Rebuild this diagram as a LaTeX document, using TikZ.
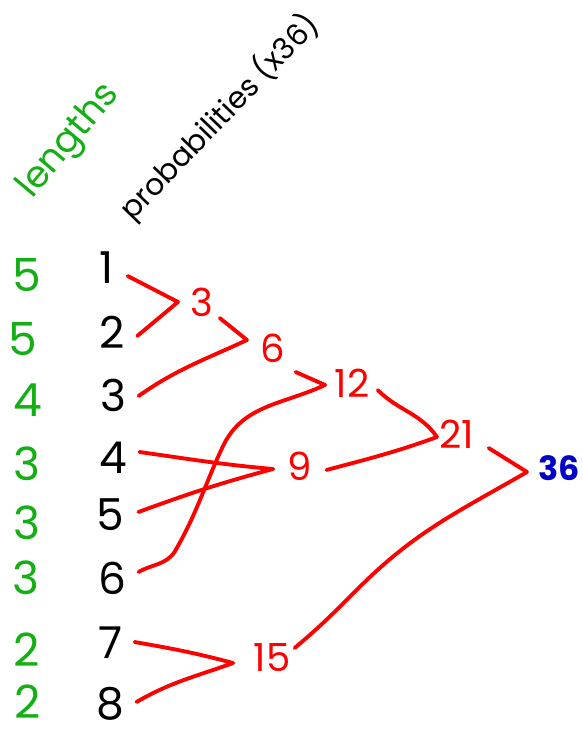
\documentclass[tikz,border=0pt]{standalone}
\usepackage{fontspec}
\setmainfont{Poppins}
\usepackage{xcolor}
\definecolor{hfGreen}{RGB}{20, 175, 20}
\definecolor{hfRed}{RGB}{255, 0, 0}
\definecolor{hfBlue}{RGB}{0, 0, 200}
\usepackage{tikz}
\usetikzlibrary{
    positioning,
    calc
}

\begin{document}
\begin{tikzpicture}[
    x=0.02cm, y=0.02cm,
    lengthNode/.style={
        text=hfGreen, font=\fontsize{26}{26}\selectfont, inner sep=0pt
    },
    probNode/.style={
        text=black, font=\fontsize{25}{25}\selectfont, inner sep=3pt
    },
    sumNode/.style={
        text=hfRed, font=\fontsize{22}{22}\selectfont, inner sep=0pt
    },
    rootNode/.style={
        text=hfBlue, font=\fontsize{19}{19}\selectfont\bfseries, inner sep=0pt
    },
    headLabel/.style={
        anchor=base west, inner sep=0pt
    },
    mergeLine/.style={
        draw=hfRed, line width=2.2pt, line cap=round, line join=round
    }
]

    \useasboundingbox (0,0) rectangle (582,-736);

    % Headings
    \node[headLabel, rotate=50, text=hfGreen, font=\fontsize{21}{21}\selectfont] (lenHead) at (32,-200) {lengths};
    \node[headLabel, rotate=46, font=\fontsize{17}{17}\selectfont] (probHead) at (132,-222) {probabilities~(x36)};

    % Code lengths
    \node[lengthNode] (l1) at (27,-275) {5};
    \node[lengthNode] (l2) at (23,-339) {5};
    \node[lengthNode] (l3) at (28,-400) {4};
    \node[lengthNode] (l4) at (27,-464) {3};
    \node[lengthNode] (l5) at (27,-523) {3};
    \node[lengthNode] (l6) at (26,-578) {3};
    \node[lengthNode] (l7) at (27,-650) {2};
    \node[lengthNode] (l8) at (28,-702) {2};

    % Probabilities
    \node[probNode] (p1) at (107,-268) {1};
    \node[probNode] (p2) at (112,-332) {2};
    \node[probNode] (p3) at (113,-395) {3};
    \node[probNode] (p4) at (113,-458) {4};
    \node[probNode] (p5) at (110,-515) {5};
    \node[probNode] (p6) at (112,-578) {6};
    \node[probNode] (p7) at (110,-643) {7};
    \node[probNode] (p8) at (110,-704) {8};

    % Merged sums
    \node[sumNode] (s3) at (202,-302) {3};
    \node[sumNode] (s6) at (273,-348) {6};
    \node[sumNode] (s12) at (352,-383) {12};
    \node[sumNode] (s9) at (300,-466) {9};
    \node[sumNode] (s21) at (457,-434) {21};
    \node[sumNode] (s15) at (272,-658) {15};
    \node[rootNode] (s36) at (559,-468) {36};

    % Joints
    \coordinate (j3) at (178,-302);
    \coordinate (j6) at (247,-340);
    \coordinate (j12) at (325,-385);
    \coordinate (j9) at (273,-469);
    \coordinate (j21) at (437,-437);
    \coordinate (j15) at (233,-663);
    \coordinate (j36) at (527,-472);

    % Connections
    \draw[mergeLine] ($(p1.east)+(8,-8)$) -- (j3) -- ($(p2.east)+(7,-4)$);
    \draw[mergeLine] ($(s3.east)+(6,-16)$) -- (j6);
    \draw[mergeLine] ($(p3.east)+(7,-1)$) to[out=35,in=205] (j6);

    \draw[mergeLine] ($(s6.east)+(10,-24)$) -- (j12);
    \draw[mergeLine] ($(p6.east)+(7,6)$) to[out=30,in=235] ++(36,20)
        to[out=60,in=245] ++(48,105) to[out=65,in=205] (j12);

    \draw[mergeLine] ($(p4.east)+(7,6)$) to[out=-8,in=175] (j9);
    \draw[mergeLine] ($(p5.east)+(9,3)$) to[out=20,in=195] (j9);

    \draw[mergeLine] ($(s12.east)+(8,-7)$) to[out=-45,in=125] (j21);
    \draw[mergeLine] ($(s9.east)+(14,-4)$) to[out=15,in=200] (j21);

    \draw[mergeLine] ($(s21.east)+(14,-14)$) -- (j36);
    \draw[mergeLine] ($(s15.east)+(4,10)$) to[out=40,in=225] ++(64,60)
        to[out=45,in=210] (j36);

    \draw[mergeLine] ($(p7.east)+(7,1)$) to[out=-10,in=165] (j15);
    \draw[mergeLine] ($(p8.east)+(7,2)$) to[out=30,in=200] (j15);

\end{tikzpicture}
\end{document}
